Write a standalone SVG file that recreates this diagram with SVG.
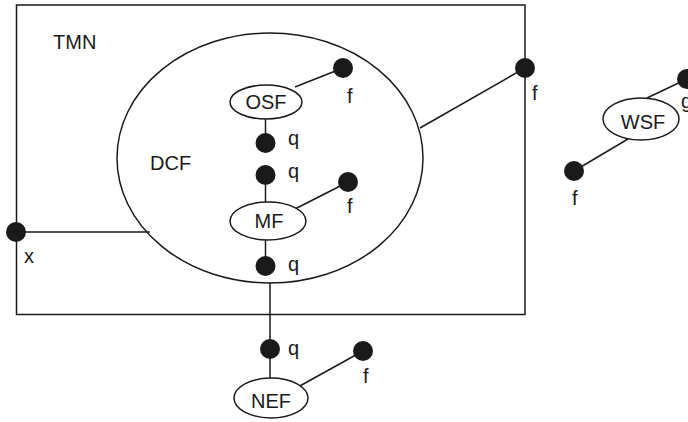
<svg xmlns="http://www.w3.org/2000/svg" width="688" height="422" viewBox="0 0 688 422">
<style>
.s{fill:none;stroke:#1a1a1a;stroke-width:1.5}
.e{fill:#fff;stroke:#1a1a1a;stroke-width:1.5}
.d{fill:#1a1a1a}
text{font-family:"Liberation Sans",Arial,sans-serif;font-size:20px;fill:#1a1a1a}
.c{text-anchor:middle}
</style>
<rect width="688" height="422" fill="#fff"/>
<g id="tmn">
<rect class="s" x="16.5" y="5" width="508.5" height="309.5"/>
<text x="53" y="49">TMN</text>
</g>
<g id="dcf">
<ellipse class="s" cx="270" cy="158" rx="153" ry="125"/>
<text x="150" y="170">DCF</text>
</g>
<g id="connectors">
<line class="s" x1="16" y1="232" x2="150" y2="232"/>
<line class="s" x1="525" y1="68" x2="420" y2="128"/>
<line class="s" x1="295" y1="87" x2="343" y2="68"/>
<line class="s" x1="265.5" y1="119" x2="265.5" y2="143"/>
<line class="s" x1="265.5" y1="175" x2="265.5" y2="202"/>
<line class="s" x1="295" y1="209" x2="348" y2="182"/>
<line class="s" x1="265.5" y1="240" x2="265.5" y2="266"/>
<line class="s" x1="270" y1="283" x2="270" y2="378"/>
<line class="s" x1="298" y1="387" x2="363" y2="351"/>
<line class="s" x1="647" y1="98" x2="687" y2="79"/>
<line class="s" x1="628" y1="139" x2="574" y2="171"/>
</g>
<g id="osf">
<ellipse class="e" cx="266" cy="102" rx="36" ry="17"/>
<text class="c" x="266" y="109">OSF</text>
</g>
<g id="mf">
<ellipse class="e" cx="268" cy="221" rx="38" ry="19"/>
<text class="c" x="269" y="228">MF</text>
</g>
<g id="nef">
<ellipse class="e" cx="271" cy="398" rx="37" ry="20"/>
<text class="c" x="271" y="408">NEF</text>
</g>
<g id="wsf">
<ellipse class="e" cx="641" cy="119" rx="38" ry="21"/>
<text class="c" x="643" y="129">WSF</text>
</g>
<g id="points">
<circle class="d" cx="16" cy="232" r="10"/>
<text x="24" y="263">x</text>
<circle class="d" cx="525" cy="68" r="10"/>
<text x="532" y="100">f</text>
<circle class="d" cx="343" cy="68" r="10"/>
<text x="347" y="103">f</text>
<circle class="d" cx="265.5" cy="143" r="10"/>
<text x="288" y="145">q</text>
<circle class="d" cx="265.5" cy="175" r="10"/>
<text x="288" y="178">q</text>
<circle class="d" cx="348" cy="182" r="10"/>
<text x="347" y="213">f</text>
<circle class="d" cx="265.5" cy="266" r="10"/>
<text x="288" y="271">q</text>
<circle class="d" cx="270" cy="349" r="10"/>
<text x="288" y="355">q</text>
<circle class="d" cx="363" cy="351" r="10"/>
<text x="363" y="383">f</text>
<circle class="d" cx="574" cy="171" r="10"/>
<text x="572" y="205">f</text>
<circle class="d" cx="687" cy="79" r="10"/>
<text x="681" y="108">g</text>
</g>
</svg>
